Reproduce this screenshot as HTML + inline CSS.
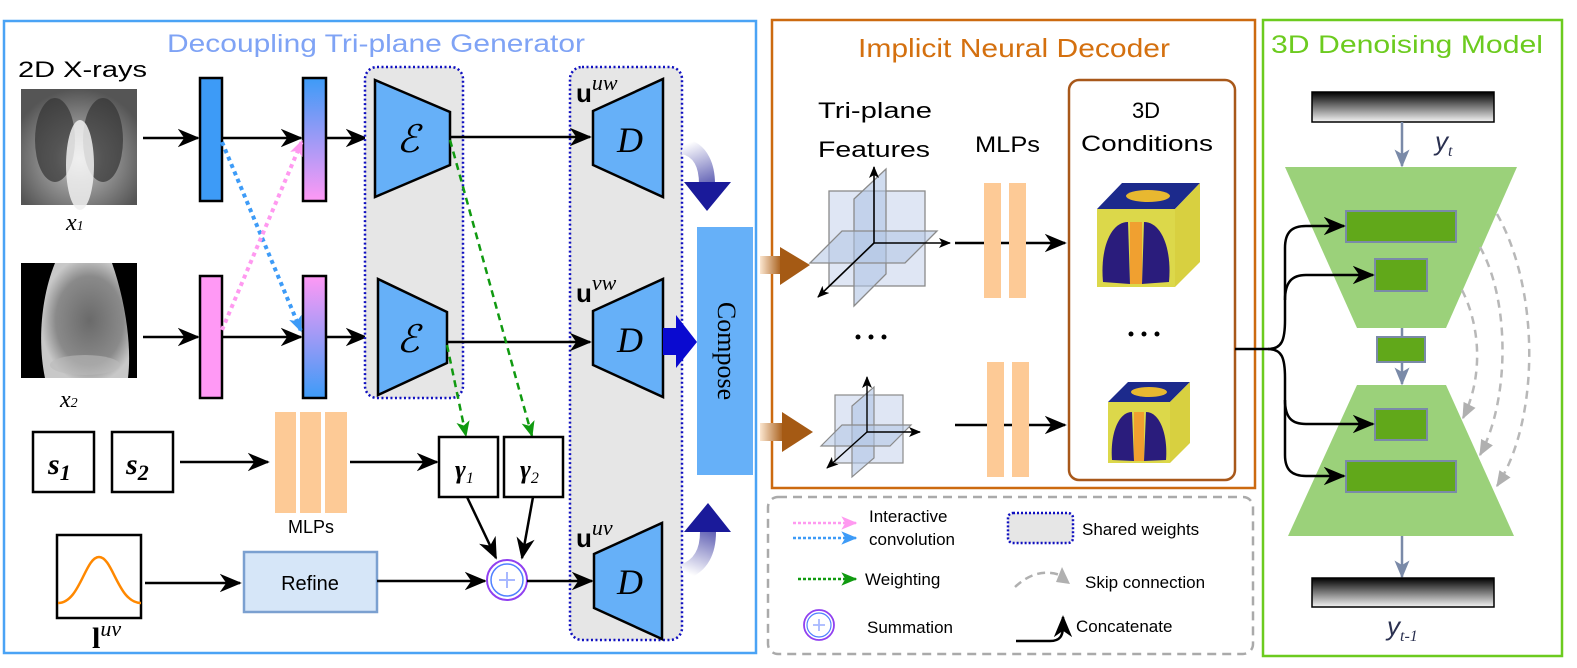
<!DOCTYPE html>
<html><head><meta charset="utf-8"><style>
html,body{margin:0;padding:0;background:#fff;}
svg{display:block;}
.c{font-family:"Liberation Sans",sans-serif;}
</style></head><body>
<svg width="1577" height="668" viewBox="0 0 1577 668" xmlns="http://www.w3.org/2000/svg">
<defs>
<marker id="ah" viewBox="0 0 12 10" refX="11" refY="5" markerWidth="12" markerHeight="10" markerUnits="userSpaceOnUse" orient="auto"><path d="M0,0 L12,5 L0,10 L3,5 z" fill="#000"/></marker>
<marker id="ahB" viewBox="0 0 12 10" refX="11" refY="5" markerWidth="22" markerHeight="19" markerUnits="userSpaceOnUse" orient="auto"><path d="M0,0 L12,5 L0,10 L3.5,5 z" fill="#000"/></marker>
<marker id="ahG" viewBox="0 0 12 10" refX="11" refY="5" markerWidth="16" markerHeight="15" markerUnits="userSpaceOnUse" orient="auto"><path d="M0,0 L12,5 L0,10 L3,5 z" fill="#109a10"/></marker>
<marker id="ahP" viewBox="0 0 12 10" refX="11" refY="5" markerWidth="16" markerHeight="15" markerUnits="userSpaceOnUse" orient="auto"><path d="M0,0 L12,5 L0,10 L3,5 z" fill="#ff99f0"/></marker>
<marker id="ahC" viewBox="0 0 12 10" refX="11" refY="5" markerWidth="16" markerHeight="15" markerUnits="userSpaceOnUse" orient="auto"><path d="M0,0 L12,5 L0,10 L3,5 z" fill="#3d9bf7"/></marker>
<marker id="ahS" viewBox="0 0 12 10" refX="11" refY="5" markerWidth="18" markerHeight="16" markerUnits="userSpaceOnUse" orient="auto"><path d="M0,0 L12,5 L0,10 L3,5 z" fill="#7a8aa8"/></marker>
<marker id="ahK" viewBox="0 0 12 10" refX="11" refY="5" markerWidth="16" markerHeight="15" markerUnits="userSpaceOnUse" orient="auto"><path d="M0,0 L12,5 L0,10 z" fill="#b0b0b0"/></marker>
<linearGradient id="g1" x1="0" y1="0" x2="0" y2="1"><stop offset="0" stop-color="#3d9bf7"/><stop offset="1" stop-color="#ff99f5"/></linearGradient>
<linearGradient id="g2" x1="0" y1="0" x2="0" y2="1"><stop offset="0" stop-color="#ff99f5"/><stop offset="1" stop-color="#3d9bf7"/></linearGradient>
<linearGradient id="gbar" x1="0" y1="0" x2="0" y2="1"><stop offset="0" stop-color="#000"/><stop offset="1" stop-color="#f4f4f4"/></linearGradient>
<linearGradient id="gbr" x1="0" y1="0" x2="1" y2="0"><stop offset="0" stop-color="#fbe6d0"/><stop offset="1" stop-color="#a55a14"/></linearGradient>
<linearGradient id="gnv1" gradientUnits="userSpaceOnUse" x1="683" y1="145" x2="707" y2="210"><stop offset="0" stop-color="#ffffff"/><stop offset="1" stop-color="#141490"/></linearGradient>
<linearGradient id="gnv2" gradientUnits="userSpaceOnUse" x1="683" y1="572" x2="708" y2="504"><stop offset="0" stop-color="#ffffff"/><stop offset="1" stop-color="#141490"/></linearGradient>
<radialGradient id="xr1" cx="0.5" cy="0.6" r="0.6"><stop offset="0" stop-color="#e8e8e8"/><stop offset="0.35" stop-color="#a0a0a0"/><stop offset="1" stop-color="#555"/></radialGradient>
<radialGradient id="xr2" cx="0.55" cy="0.5" r="0.55"><stop offset="0" stop-color="#6a6a6a"/><stop offset="0.7" stop-color="#8a8a8a"/><stop offset="1" stop-color="#c8c8c8"/></radialGradient>
</defs>

<!-- LEFT PANEL -->
<rect x="4" y="21" width="752" height="632" fill="none" stroke="#4aa3f5" stroke-width="2.5"/>
<text x="167" y="52" class="c" font-size="25" fill="#7fa3f5" textLength="418" lengthAdjust="spacingAndGlyphs">Decoupling Tri-plane Generator</text>
<text x="18" y="77" class="c" font-size="22" fill="#000" textLength="129" lengthAdjust="spacingAndGlyphs">2D X-rays</text>

<rect x="21" y="89" width="116" height="116" fill="url(#xr1)"/>
<ellipse cx="55" cy="140" rx="20" ry="42" fill="#333" opacity="0.7"/>
<ellipse cx="103" cy="140" rx="20" ry="42" fill="#333" opacity="0.7"/>
<ellipse cx="80" cy="165" rx="14" ry="45" fill="#f0f0f0" opacity="0.85"/>
<text x="66" y="230" font-family="Liberation Serif,serif" font-style="italic" font-size="24">x<tspan font-size="14">1</tspan></text>
<rect x="21" y="263" width="116" height="115" fill="#000"/>
<path d="M55,263 C40,300 38,345 45,378 L128,378 C132,345 125,300 112,263 Z" fill="url(#xr2)"/>
<ellipse cx="85" cy="365" rx="35" ry="10" fill="#bbb" opacity="0.6"/>
<text x="60" y="407" font-family="Liberation Serif,serif" font-style="italic" font-size="24">x<tspan font-size="14">2</tspan></text>

<line x1="143" y1="138" x2="198" y2="138" stroke="#000" stroke-width="2.5" marker-end="url(#ahB)"/>
<line x1="143" y1="337" x2="198" y2="337" stroke="#000" stroke-width="2.5" marker-end="url(#ahB)"/>
<rect x="200" y="78" width="22" height="123" fill="#3d9bf7" stroke="#000" stroke-width="2.5"/>
<rect x="303" y="78" width="23" height="123" fill="url(#g1)" stroke="#000" stroke-width="2.5"/>
<rect x="200" y="276" width="22" height="122" fill="#ff99f5" stroke="#000" stroke-width="2.5"/>
<rect x="303" y="276" width="23" height="122" fill="url(#g2)" stroke="#000" stroke-width="2.5"/>
<line x1="222" y1="138" x2="301" y2="138" stroke="#000" stroke-width="2.5" marker-end="url(#ahB)"/>
<line x1="222" y1="337" x2="301" y2="337" stroke="#000" stroke-width="2.5" marker-end="url(#ahB)"/>
<line x1="326" y1="138" x2="366" y2="138" stroke="#000" stroke-width="2.5" marker-end="url(#ahB)"/>
<line x1="326" y1="337" x2="366" y2="337" stroke="#000" stroke-width="2.5" marker-end="url(#ahB)"/>
<line x1="222" y1="142" x2="301" y2="331" stroke="#3d9bf7" stroke-width="4" stroke-dasharray="4 4" marker-end="url(#ahC)"/>
<line x1="222" y1="330" x2="302" y2="141" stroke="#ff99f0" stroke-width="4" stroke-dasharray="4 4" marker-end="url(#ahP)"/>

<rect x="365" y="67" width="98" height="331" rx="12" fill="#e6e6e6" stroke="#1010c0" stroke-width="2.5" stroke-dasharray="2 2.5"/>
<rect x="570" y="67" width="112" height="573" rx="12" fill="#e6e6e6" stroke="#1010c0" stroke-width="2.5" stroke-dasharray="2 2.5"/>

<polygon points="375,80 450,112 450,165 375,197" fill="#66b0f8" stroke="#000" stroke-width="2.5"/>
<polygon points="378,279 447,312 447,363 378,395" fill="#66b0f8" stroke="#000" stroke-width="2.5"/>
<text x="408" y="152" font-family="DejaVu Serif,serif" font-style="italic" font-size="38" text-anchor="middle">ℰ</text>
<text x="408" y="352" font-family="DejaVu Serif,serif" font-style="italic" font-size="38" text-anchor="middle">ℰ</text>
<line x1="450" y1="137" x2="590" y2="137" stroke="#000" stroke-width="2.5" marker-end="url(#ahB)"/>
<line x1="447" y1="342" x2="590" y2="342" stroke="#000" stroke-width="2.5" marker-end="url(#ahB)"/>

<polygon points="593,111 663,79 663,197 593,165" fill="#66b0f8" stroke="#000" stroke-width="2.5"/>
<polygon points="593,311 663,279 663,397 593,365" fill="#66b0f8" stroke="#000" stroke-width="2.5"/>
<polygon points="594,554 662,523 662,639 594,608" fill="#66b0f8" stroke="#000" stroke-width="2.5"/>
<text x="630" y="152" font-family="Liberation Serif,serif" font-style="italic" font-size="36" text-anchor="middle">D</text>
<text x="630" y="352" font-family="Liberation Serif,serif" font-style="italic" font-size="36" text-anchor="middle">D</text>
<text x="630" y="594" font-family="Liberation Serif,serif" font-style="italic" font-size="36" text-anchor="middle">D</text>
<text x="576" y="102" font-family="Liberation Sans,sans-serif" font-weight="bold" font-size="26">u<tspan font-family="Liberation Serif,serif" font-weight="normal" font-style="italic" font-size="22" dy="-12">uw</tspan></text>
<text x="576" y="302" font-family="Liberation Sans,sans-serif" font-weight="bold" font-size="26">u<tspan font-family="Liberation Serif,serif" font-weight="normal" font-style="italic" font-size="22" dy="-12">vw</tspan></text>
<text x="576" y="547" font-family="Liberation Sans,sans-serif" font-weight="bold" font-size="26">u<tspan font-family="Liberation Serif,serif" font-weight="normal" font-style="italic" font-size="22" dy="-12">uv</tspan></text>

<path d="M683,146 C702,150 707,168 707,184" fill="none" stroke="url(#gnv1)" stroke-width="16"/>
<polygon points="684,182 731,182 707,211" fill="#1a1a9a"/>
<path d="M683,572 C702,566 708,550 708,532" fill="none" stroke="url(#gnv2)" stroke-width="16"/>
<polygon points="684,532 731,532 708,503" fill="#1a1a9a"/>
<rect x="663" y="328" width="14" height="27" fill="#0a0ad0"/>
<polygon points="676,315 697,342 676,368" fill="#0a0ad0"/>

<rect x="697" y="227" width="56" height="248" fill="#66b0f8"/>
<text transform="translate(718,351) rotate(90)" font-family="Liberation Serif,serif" font-size="26" text-anchor="middle">Compose</text>

<line x1="450" y1="140" x2="532" y2="436" stroke="#109a10" stroke-width="2.5" stroke-dasharray="7 5" marker-end="url(#ahG)"/>
<line x1="447" y1="345" x2="466" y2="436" stroke="#109a10" stroke-width="2.5" stroke-dasharray="7 5" marker-end="url(#ahG)"/>

<rect x="33" y="432" width="61" height="60" fill="#fff" stroke="#000" stroke-width="2.5"/>
<rect x="112" y="432" width="61" height="60" fill="#fff" stroke="#000" stroke-width="2.5"/>
<text x="48" y="474" font-family="Liberation Serif,serif" font-weight="bold" font-style="italic" font-size="30">s<tspan font-size="22" dy="6">1</tspan></text>
<text x="126" y="474" font-family="Liberation Serif,serif" font-weight="bold" font-style="italic" font-size="30">s<tspan font-size="22" dy="6">2</tspan></text>
<line x1="180" y1="462" x2="268" y2="462" stroke="#000" stroke-width="2.5" marker-end="url(#ahB)"/>
<rect x="275" y="412" width="21" height="101" fill="#fdca96"/>
<rect x="300" y="412" width="21" height="101" fill="#fdca96"/>
<rect x="325" y="412" width="22" height="101" fill="#fdca96"/>
<text x="311" y="533" class="c" font-size="18" text-anchor="middle">MLPs</text>
<line x1="350" y1="462" x2="437" y2="462" stroke="#000" stroke-width="2.5" marker-end="url(#ahB)"/>
<rect x="439" y="437" width="59" height="60" fill="#fff" stroke="#000" stroke-width="2.5"/>
<rect x="504" y="437" width="59" height="60" fill="#fff" stroke="#000" stroke-width="2.5"/>
<text x="455" y="478" font-family="Liberation Serif,serif" font-weight="bold" font-style="italic" font-size="26">γ<tspan font-size="16" dy="5" font-weight="normal">1</tspan></text>
<text x="520" y="478" font-family="Liberation Serif,serif" font-weight="bold" font-style="italic" font-size="26">γ<tspan font-size="16" dy="5" font-weight="normal">2</tspan></text>
<line x1="467" y1="497" x2="496" y2="558" stroke="#000" stroke-width="2.5" marker-end="url(#ahB)"/>
<line x1="533" y1="497" x2="522" y2="558" stroke="#000" stroke-width="2.5" marker-end="url(#ahB)"/>

<rect x="57" y="535" width="84" height="83" fill="#fff" stroke="#000" stroke-width="2.5"/>
<path d="M58,603 C80,603 85,557 99,557 C113,557 118,603 141,603" fill="none" stroke="#ff8800" stroke-width="2.5"/>
<text x="92" y="648" font-family="Liberation Serif,serif" font-weight="bold" font-size="30">l<tspan font-weight="normal" font-style="italic" font-size="22" dy="-12">uv</tspan></text>
<line x1="145" y1="583" x2="240" y2="583" stroke="#000" stroke-width="2.5" marker-end="url(#ahB)"/>
<rect x="244" y="552" width="133" height="60" fill="#d6e6f8" stroke="#7ba0d0" stroke-width="2.5"/>
<text x="310" y="590" class="c" font-size="20" text-anchor="middle">Refine</text>
<line x1="377" y1="581" x2="485" y2="581" stroke="#000" stroke-width="2.5" marker-end="url(#ahB)"/>
<circle cx="507" cy="580" r="20" fill="#fff" stroke="#9040f0" stroke-width="2"/>
<circle cx="507" cy="580" r="16" fill="#fff" stroke="#5080ff" stroke-width="1.5"/>
<path d="M499,580 H515 M507,572 V588" stroke="#a8b8ff" stroke-width="2"/>
<line x1="527" y1="581" x2="592" y2="581" stroke="#000" stroke-width="2.5" marker-end="url(#ahB)"/>

<!-- MIDDLE PANEL -->
<rect x="772" y="20" width="483" height="468" fill="none" stroke="#cc6a10" stroke-width="2.5"/>
<text x="858" y="57" class="c" font-size="26" fill="#d4700f" textLength="312" lengthAdjust="spacingAndGlyphs">Implicit Neural Decoder</text>
<text x="818" y="118" class="c" font-size="22" textLength="114" lengthAdjust="spacingAndGlyphs">Tri-plane</text>
<text x="818" y="157" class="c" font-size="22" textLength="112" lengthAdjust="spacingAndGlyphs">Features</text>
<text x="975" y="152" class="c" font-size="22" textLength="65" lengthAdjust="spacingAndGlyphs">MLPs</text>
<rect x="1069" y="80" width="166" height="400" rx="10" fill="none" stroke="#a8581a" stroke-width="2.5"/>
<text x="1146" y="118" class="c" font-size="22" text-anchor="middle">3D</text>
<text x="1081" y="151" class="c" font-size="22" textLength="132" lengthAdjust="spacingAndGlyphs">Conditions</text>

<rect x="760" y="256" width="22" height="18" fill="url(#gbr)"/>
<polygon points="780,247 810,265 780,285" fill="#a55a14"/>
<rect x="760" y="423" width="24" height="18" fill="url(#gbr)"/>
<polygon points="782,412 813,432 782,452" fill="#a55a14"/>

<g stroke="#8a8a8a" stroke-width="1.3">
<rect x="829" y="191" width="96" height="95" fill="#c9d6ec" fill-opacity="0.6"/>
<polygon points="854,199 886,169 886,274 854,306" fill="#b0c4e4" fill-opacity="0.6"/>
<polygon points="810,263 842,231 937,231 905,263" fill="#b0c4e4" fill-opacity="0.55"/>
</g>
<g stroke="#000" stroke-width="1.6">
<line x1="874" y1="243" x2="874" y2="167" marker-end="url(#ah)"/>
<line x1="874" y1="243" x2="950" y2="243" marker-end="url(#ah)"/>
<line x1="874" y1="243" x2="818" y2="297" marker-end="url(#ah)"/>
</g>
<line x1="955" y1="243" x2="1065" y2="243" stroke="#000" stroke-width="2.5" marker-end="url(#ahB)"/>
<rect x="984" y="183" width="17" height="115" fill="#fdca96"/>
<rect x="1009" y="183" width="17" height="115" fill="#fdca96"/>
<g fill="#000"><circle cx="858" cy="337" r="2.5"/><circle cx="871" cy="337" r="2.5"/><circle cx="884" cy="337" r="2.5"/>
<circle cx="1131" cy="334" r="2.5"/><circle cx="1144" cy="334" r="2.5"/><circle cx="1157" cy="334" r="2.5"/></g>
<g stroke="#8a8a8a" stroke-width="1.2">
<rect x="835" y="395" width="68" height="68" fill="#c9d6ec" fill-opacity="0.6"/>
<polygon points="852,406 874,387 874,458 852,477" fill="#b0c4e4" fill-opacity="0.6"/>
<polygon points="821,446 842,425 911,425 890,446" fill="#b0c4e4" fill-opacity="0.55"/>
</g>
<g stroke="#000" stroke-width="1.4">
<line x1="867" y1="432" x2="867" y2="377" marker-end="url(#ah)"/>
<line x1="867" y1="432" x2="920" y2="432" marker-end="url(#ah)"/>
<line x1="867" y1="432" x2="827" y2="468" marker-end="url(#ah)"/>
</g>
<line x1="955" y1="425" x2="1065" y2="425" stroke="#000" stroke-width="2.5" marker-end="url(#ahB)"/>
<rect x="987" y="362" width="17" height="115" fill="#fdca96"/>
<rect x="1012" y="362" width="17" height="115" fill="#fdca96"/>

<g>
<polygon points="1097,209 1122,183 1200,183 1175,209" fill="#1c2a8c"/>
<ellipse cx="1148" cy="196" rx="22" ry="6" fill="#e8b830"/>
<polygon points="1175,209 1200,183 1200,262 1175,287" fill="#d8d040"/>
<rect x="1097" y="209" width="78" height="78" fill="#dcd84a"/>
<path d="M1103,282 C1100,250 1110,222 1128,222 L1130,284 Z" fill="#2a1c7c"/>
<path d="M1169,282 C1172,250 1162,222 1144,222 L1142,284 Z" fill="#2a1c7c"/>
<rect x="1130" y="222" width="12" height="62" fill="#f0a030"/>
</g>
<g>
<polygon points="1108,402 1128,382 1190,382 1170,402" fill="#1c2a8c"/>
<ellipse cx="1149" cy="392" rx="18" ry="5" fill="#e8b830"/>
<polygon points="1170,402 1190,382 1190,443 1170,463" fill="#d8d040"/>
<rect x="1108" y="402" width="62" height="61" fill="#dcd84a"/>
<path d="M1112,460 C1110,435 1118,412 1132,412 L1134,461 Z" fill="#2a1c7c"/>
<path d="M1166,460 C1168,435 1160,412 1146,412 L1144,461 Z" fill="#2a1c7c"/>
<rect x="1134" y="412" width="10" height="49" fill="#f0a030"/>
</g>

<!-- legend -->
<rect x="768" y="497" width="485" height="157" rx="10" fill="none" stroke="#aaa" stroke-width="2.5" stroke-dasharray="9 6"/>
<line x1="793" y1="523" x2="856" y2="523" stroke="#ff99f0" stroke-width="2.5" stroke-dasharray="3 2" marker-end="url(#ahP)"/>
<line x1="793" y1="538" x2="856" y2="538" stroke="#3d9bf7" stroke-width="2.5" stroke-dasharray="3 2" marker-end="url(#ahC)"/>
<text x="869" y="522" class="c" font-size="17">Interactive</text>
<text x="869" y="545" class="c" font-size="17">convolution</text>
<rect x="1008" y="513" width="65" height="30" rx="5" fill="#e6e6e6" stroke="#1010c0" stroke-width="2.5" stroke-dasharray="2 2"/>
<text x="1082" y="535" class="c" font-size="17">Shared weights</text>
<line x1="798" y1="579" x2="856" y2="579" stroke="#109a10" stroke-width="2.5" stroke-dasharray="3 2" marker-end="url(#ahG)"/>
<text x="865" y="585" class="c" font-size="17">Weighting</text>
<path d="M1015,587 C1030,573 1045,570 1060,575" fill="none" stroke="#b0b0b0" stroke-width="2.5" stroke-dasharray="8 5"/>
<polygon points="1062,567 1070,584 1056,582" fill="#b0b0b0"/>
<text x="1085" y="588" class="c" font-size="17">Skip  connection</text>
<circle cx="819" cy="625" r="15" fill="#fff" stroke="#9040f0" stroke-width="1.8"/>
<circle cx="819" cy="625" r="12" fill="#fff" stroke="#5080ff" stroke-width="1.2"/>
<path d="M813,625 H825 M819,619 V631" stroke="#a8b8ff" stroke-width="1.8"/>
<text x="867" y="633" class="c" font-size="17">Summation</text>
<path d="M1016,641 L1050,641 C1060,641 1063,636 1063,626 L1063,617" fill="none" stroke="#000" stroke-width="2.5" marker-end="url(#ahB)"/>
<text x="1076" y="632" class="c" font-size="17">Concatenate</text>

<!-- RIGHT PANEL -->
<rect x="1263" y="20" width="299" height="636" fill="none" stroke="#6ccb1f" stroke-width="2.5"/>
<text x="1271" y="53" class="c" font-size="25" fill="#6ccb1f" textLength="272" lengthAdjust="spacingAndGlyphs">3D Denoising Model</text>
<rect x="1312" y="92" width="182" height="30" fill="url(#gbar)" stroke="#000" stroke-width="1.5"/>
<line x1="1402" y1="122" x2="1402" y2="166" stroke="#7a8aa8" stroke-width="2.5" marker-end="url(#ahS)"/>
<text x="1435" y="150" font-family="Liberation Sans,sans-serif" font-style="italic" font-size="26" fill="#2a3050">y<tspan font-family="Liberation Serif,serif" font-size="16" dy="6">t</tspan></text>
<polygon points="1285,167 1517,167 1446,328 1357,328" fill="#9bd17a"/>
<polygon points="1357,385 1446,385 1514,536 1288,536" fill="#9bd17a"/>
<line x1="1402" y1="328" x2="1402" y2="337" stroke="#7a8aa8" stroke-width="2.5"/>
<line x1="1402" y1="362" x2="1402" y2="384" stroke="#7a8aa8" stroke-width="2.5" marker-end="url(#ahS)"/>
<line x1="1402" y1="536" x2="1402" y2="577" stroke="#7a8aa8" stroke-width="2.5" marker-end="url(#ahS)"/>
<g fill="#61a81a" stroke="#7a8aa8" stroke-width="2">
<rect x="1346" y="211" width="110" height="31"/>
<rect x="1375" y="259" width="52" height="32"/>
<rect x="1377" y="337" width="48" height="25"/>
<rect x="1375" y="409" width="52" height="31"/>
<rect x="1346" y="461" width="110" height="31"/>
</g>
<rect x="1312" y="578" width="182" height="29" fill="url(#gbar)" stroke="#000" stroke-width="1.5"/>
<text x="1387" y="635" font-family="Liberation Sans,sans-serif" font-style="italic" font-size="26" fill="#2a3050">y<tspan font-family="Liberation Serif,serif" font-size="16" dy="6">t-1</tspan></text>

<g fill="none" stroke="#000" stroke-width="2.5">
<path d="M1235,349 H1268 C1282,349 1285,340 1285,320 V248 C1285,232 1292,226 1306,226 H1344" marker-end="url(#ahB)"/>
<path d="M1285,300 C1285,282 1292,275 1306,275 H1373" marker-end="url(#ahB)"/>
<path d="M1268,349 C1282,349 1285,358 1285,378 V455 C1285,470 1292,476 1306,476 H1344" marker-end="url(#ahB)"/>
<path d="M1285,400 C1285,418 1292,424 1306,424 H1373" marker-end="url(#ahB)"/>
</g>

<g fill="none" stroke="#b8b8b8" stroke-width="2.5" stroke-dasharray="8 6">
<path d="M1497,214 C1540,290 1540,420 1497,486" marker-end="url(#ahK)"/>
<path d="M1480,247 C1510,300 1510,400 1480,455" marker-end="url(#ahK)"/>
<path d="M1462,290 C1482,330 1482,380 1463,418" marker-end="url(#ahK)"/>
</g>
</svg>
</body></html>
